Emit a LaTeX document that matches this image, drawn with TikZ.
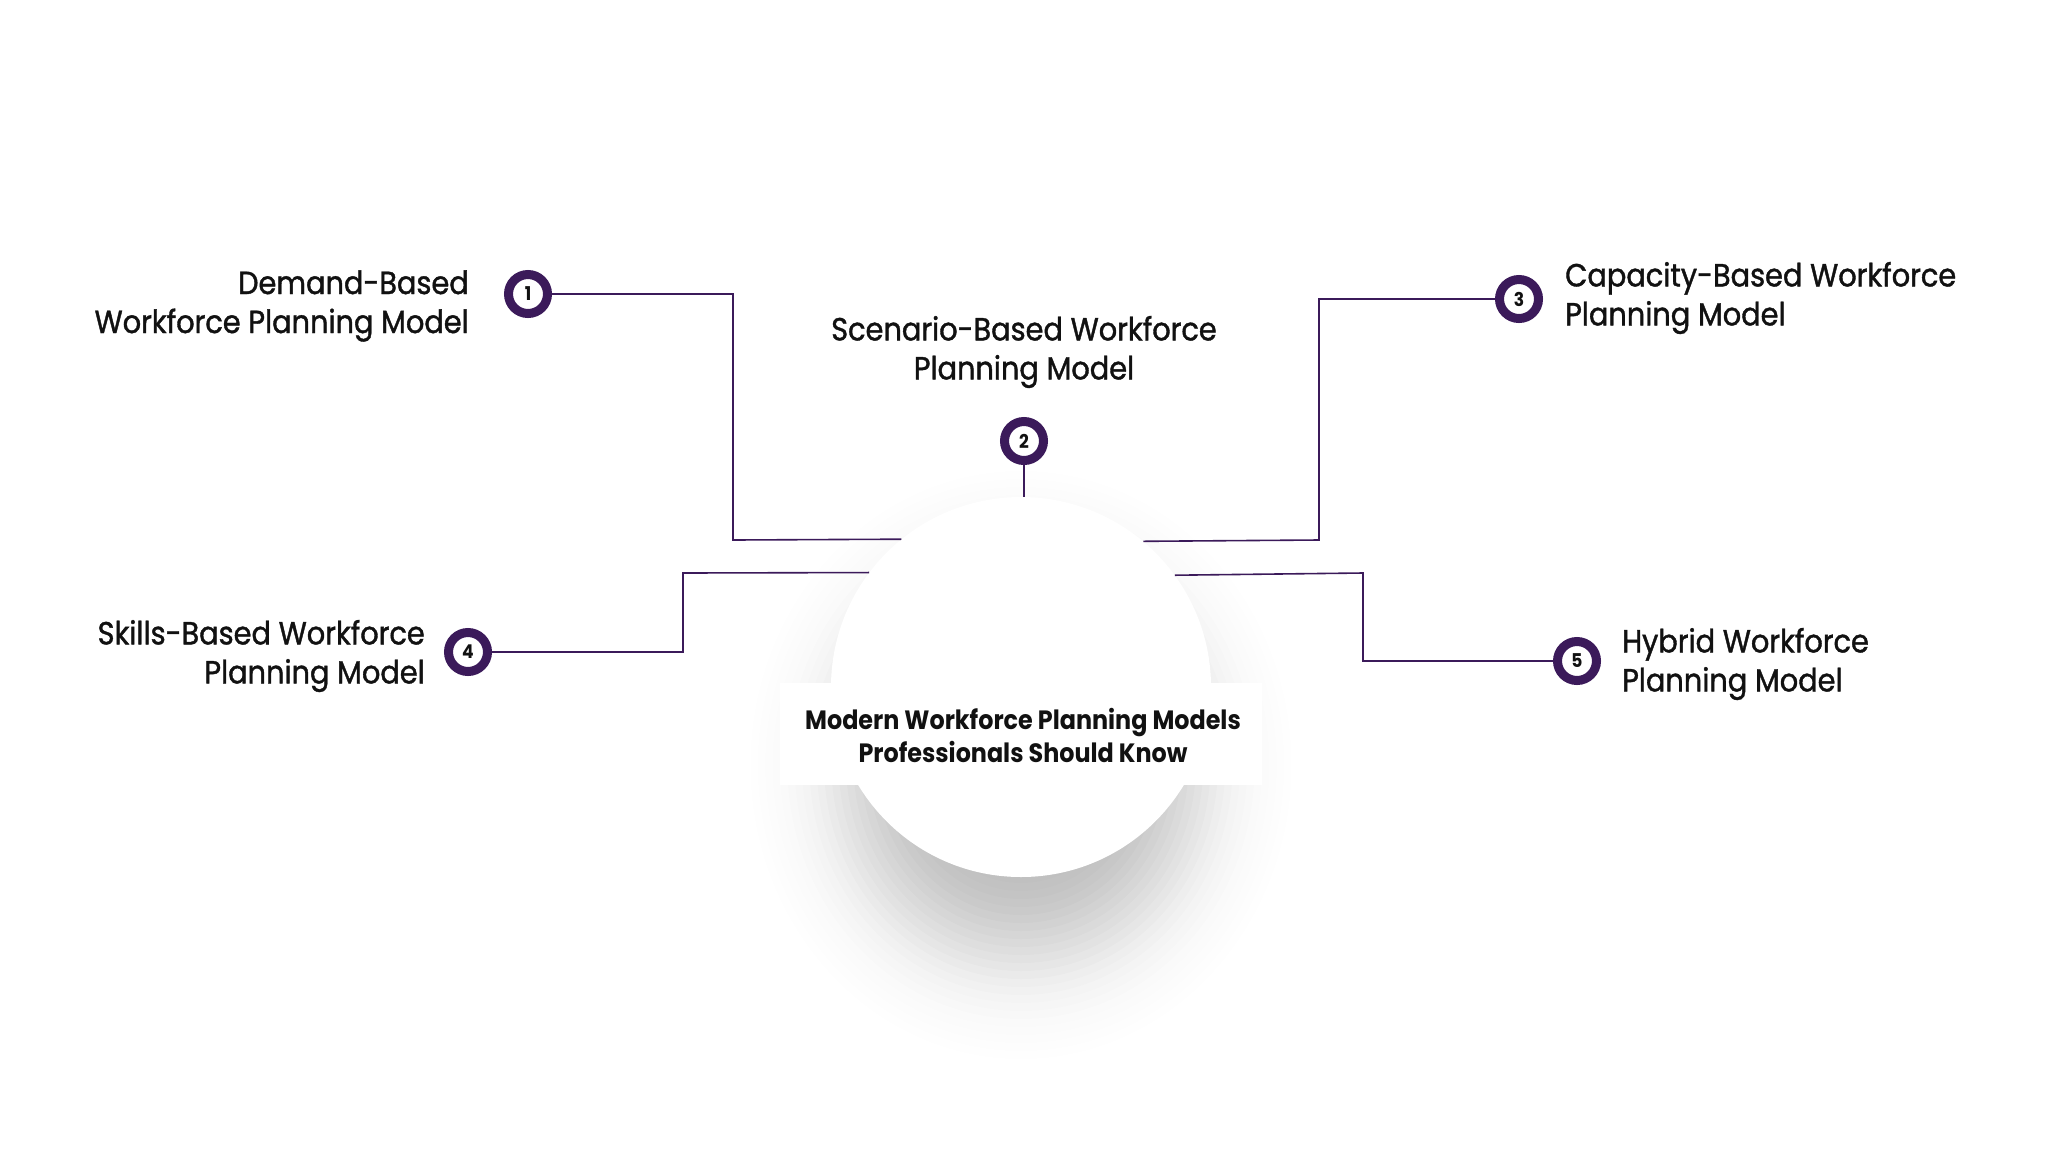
\documentclass[tikz,border=0pt]{standalone}
\usepackage{fontspec}
\setmainfont{Poppins}[FakeStretch=0.9, UprightFeatures={FakeBold=1.2}]
\definecolor{ringpurple}{HTML}{3B1A5A}
\definecolor{linepurple}{HTML}{3B1A5A}
\definecolor{txt}{HTML}{111111}
\begin{document}
\begin{tikzpicture}[x=1pt,y=-1pt,
  numring/.style={circle,draw=ringpurple,line width=9pt,fill=white,minimum size=39pt,inner sep=0pt,
    font=\fontsize{19}{19}\selectfont\bfseries,text=txt},
  lbl/.style={inner sep=0pt,text=txt,font=\fontsize{32}{39}\selectfont},
  conn/.style={draw=linepurple,line width=1.6pt},
  hubstyle/.style={circle,fill=white,minimum size=380pt,inner sep=0pt}]
\useasboundingbox (0,0) rectangle (2048,1152);
\fill[white] (0,0) rectangle (2048,1152);
% soft shadow under the hub (blurred, slightly narrowed disk)
\foreach \i in {-14,...,20}{
  \pgfmathsetmacro\op{0.0163*exp(-((\i*0.1455)^2)/2)}
  \pgfmathsetmacro\ry{182+8*\i}
  \pgfmathsetmacro\rx{0.92*\ry}
  \fill[black,opacity=\op] (1021,765) ellipse [x radius=\rx pt, y radius=\ry pt];
}
% number circles
\node[numring] (c1) at (528,294) {1};
\node[numring] (c2) at (1024,441) {2};
\node[numring] (c3) at (1519,299) {3};
\node[numring] (c4) at (468,652) {4};
\node[numring] (c5) at (1577,661) {5};
% hub
\node[hubstyle] (hub) at (1021,687) {};
% connectors
\draw[conn] (c1.east) -- (733,294) -- (733,540) -- (hub.129.3);
\draw[conn] (c2.south) -- (c2 |- hub.north);
\draw[conn] (c3.west) -- (1319,299) -- (1319,540) -- (hub.50.7);
\draw[conn] (c4.east) -- (683,652) -- (683,573) -- (hub.143.13);
\draw[conn] (c5.west) -- (1363,661) -- (1363,573) -- (hub.36.87);
% white band behind title
\fill[white] (780,683) rectangle (1262,785);
% labels
\node[lbl,anchor=east,align=right] (t1) at (469,306) {Demand-Based\\Workforce Planning Model};
\node[lbl,anchor=center,align=center] (t2) at (1024,352) {Scenario-Based Workforce\\Planning Model};
\node[lbl,anchor=west,align=left] (t3) at (1565,298) {Capacity-Based Workforce\\Planning Model};
\node[lbl,anchor=east,align=right] (t4) at (425,656) {Skills-Based Workforce\\Planning Model};
\node[lbl,anchor=west,align=left] (t5) at (1622,664) {Hybrid Workforce\\Planning Model};
\node[inner sep=0pt,text=txt,align=center,font=\fontsize{26.5}{33}\selectfont\bfseries] (title) at (1023,735)
  {Modern Workforce Planning Models\\Professionals Should Know};
\end{tikzpicture}
\end{document}
